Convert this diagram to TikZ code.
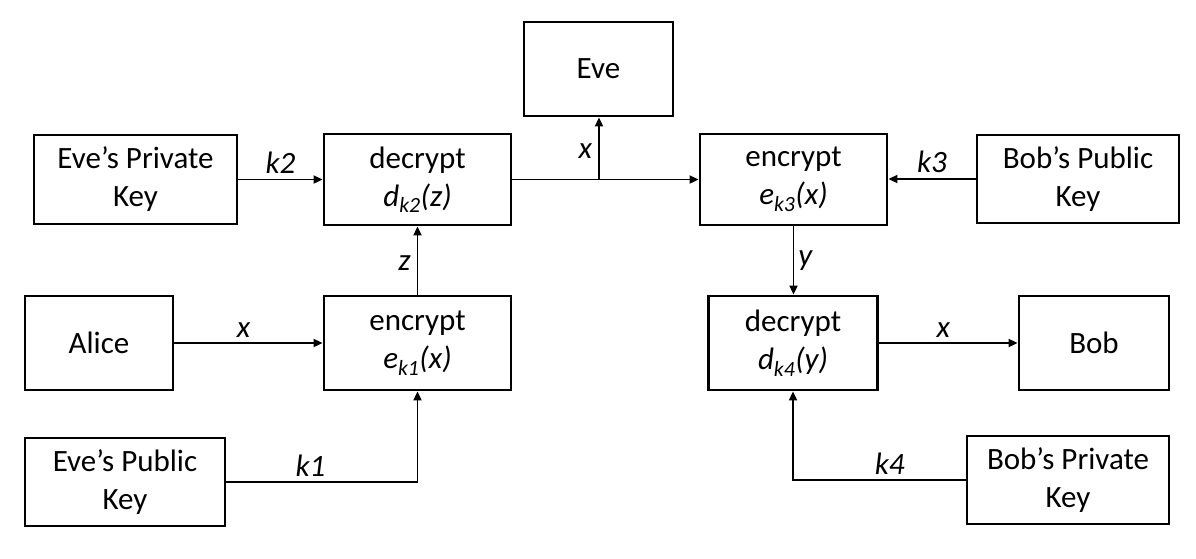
\documentclass[tikz,border=0pt]{standalone}
\usepackage{fontspec}
\setmainfont{Carlito}
\usetikzlibrary{arrows.meta}
\begin{document}
\begin{tikzpicture}[x=1pt,y=-1pt,
  every node/.style={font=\fontsize{31}{38}\selectfont},
  box/.style={draw, line width=2.8pt, rectangle, align=center, inner sep=0pt},
  arr/.style={-{Triangle[length=9pt,width=8pt]}, line width=1.8pt},
  lab/.style={font=\fontsize{31}{38}\selectfont\itshape, inner sep=2pt}]
\useasboundingbox[fill=white] (0,0) rectangle (1196,558);

% boxes
\node[box, minimum width=149, minimum height=94] (eve)     at (598.5,69)   {Eve};
\node[box, minimum width=203, minimum height=89] (evepriv) at (135.5,179.5) {Eve’s Private\\Key};
\node[box, minimum width=187, minimum height=91] (dec2)    at (417.5,179.5) {decrypt\\\itshape d\textsubscript{k2}(z)};
\node[box, minimum width=187, minimum height=91] (enc3)    at (793.5,179.5) {encrypt\\\itshape e\textsubscript{k3}(x)};
\node[box, minimum width=202, minimum height=88] (bobpub)  at (1078,179)    {Bob’s Public\\Key};
\node[box, minimum width=148, minimum height=94] (alice)   at (99,343)      {Alice};
\node[box, minimum width=187, minimum height=94] (enc1)    at (417.5,343)   {encrypt\\\itshape e\textsubscript{k1}(x)};
\node[box, minimum width=169, minimum height=94] (dec4)    at (793,343)     {decrypt\\\itshape d\textsubscript{k4}(y)};
\node[box, minimum width=150, minimum height=94] (bob)     at (1094,343)    {Bob};
\node[box, minimum width=200, minimum height=88] (evepub)  at (125,482)     {Eve’s Public\\Key};
\node[box, minimum width=202, minimum height=88] (bobpriv) at (1068,480)    {Bob’s Private\\Key};

% tap on the decrypt -> encrypt line feeding Eve
\coordinate (tap) at (599,179.5);

% connectors
\draw[arr] (evepriv.east) -- node[lab, above=3pt] {k2} (dec2.west);
\draw[arr] (dec2.east) -- (enc3.west);
\draw[arr] (tap) -- node[lab, left=4pt, yshift=-3pt] {x} (tap |- eve.south);
\draw[arr] (bobpub.west) -- node[lab, above=3pt] {k3} (bobpub.west -| enc3.east);
\draw[arr] (enc1.north) -- node[lab, left=4pt, yshift=-3pt] {z} (dec2.south);
\draw[arr] (enc3.south) -- node[lab, right=2pt] {y} (enc3.south |- dec4.north);
\draw[arr] (alice.east) -- node[lab, above=3pt, xshift=-5pt] {x} (enc1.west);
\draw[arr] (evepub.east) -| node[lab, above=3pt, pos=0.22] {k1} (enc1.south);
\draw[arr] (dec4.east) -- node[lab, above=3pt, xshift=-5pt] {x} (bob.west);
\draw[arr] (bobpriv.west) -| node[lab, above=3pt, pos=0.22] {k4} (dec4.south);
\end{tikzpicture}
\end{document}
